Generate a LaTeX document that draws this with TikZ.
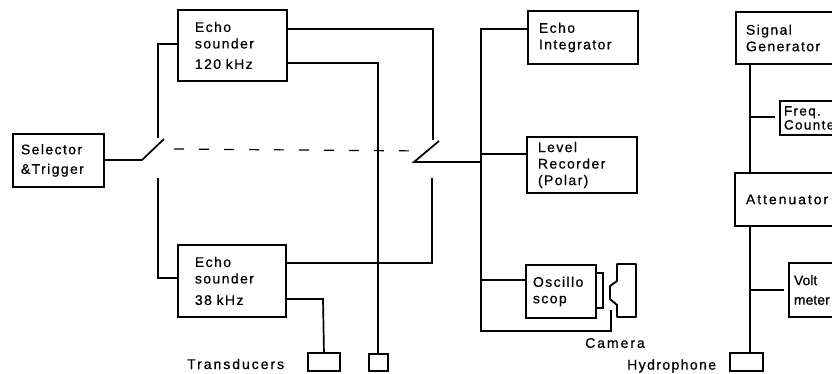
\documentclass[tikz,border=0pt]{standalone}
\usepackage{fontspec}
\setmainfont[LetterSpace=10,FakeBold=0.6]{Liberation Sans}
\usetikzlibrary{calc}
\tikzset{
  wire/.style={line width=1.7pt,line join=miter},
  thin wire/.style={line width=1.4pt},
  boxframe/.style={draw,line width=1.9pt,rectangle,inner xsep=#1,inner ysep=0pt,align=left,anchor=north west,
     font=\fontsize{14}{16.5}\selectfont},
  boxframe/.default=8pt,
  caption/.style={font=\fontsize{14}{16}\selectfont,inner sep=0pt,anchor=west},
  transducer/.style={draw,line width=1.9pt,rectangle,inner sep=0pt,anchor=north west},
}
\begin{document}
\begin{tikzpicture}[x=1pt,y=-1pt]
\useasboundingbox (0,0) rectangle (832,374);
\clip (0,0) rectangle (832,374);
% boxes
\node[boxframe=8pt,minimum width=91pt,minimum height=53pt,text width=75pt] (sel) at (12,133) {Selector\\[3pt]\&Trigger};
\node[boxframe=17pt,minimum width=109pt,minimum height=71pt,text width=75pt] (e120) at (177,9) {Echo\\sounder\\[4pt]120 kHz};
\node[boxframe=17pt,minimum width=108pt,minimum height=72pt,text width=74pt] (e38) at (177,244) {Echo\\sounder\\[5pt]38 kHz};
\node[boxframe=11pt,minimum width=110pt,minimum height=53pt,text width=88pt] (int) at (527,10) {Echo\\Integrator};
\node[boxframe=11pt,minimum width=110pt,minimum height=56pt,text width=88pt] (lev) at (526,136) {Level\\Recorder\\(Polar)};
\node[boxframe=7pt,minimum width=70pt,minimum height=53pt,text width=56pt] (osc) at (525,264) {Oscillo\\scop};
\node[boxframe=10pt,minimum width=120pt,minimum height=52pt,text width=100pt] (sig) at (735,11) {Signal\\Generator};
\node[boxframe=11pt,minimum width=120pt,minimum height=53pt,text width=98pt] (att) at (734,172) {\addfontfeature{LetterSpace=14}Attenuator};
\node[boxframe=4pt,minimum width=80pt,minimum height=34pt,text width=72pt,font=\fontsize{13.5}{14}\selectfont] (frq) at (779,100) {Freq.\\Counter};
\node[boxframe=5pt,minimum width=80pt,minimum height=54pt,text width=70pt] (vol) at (788,262) {\addfontfeature{LetterSpace=0}Volt\\[3pt]\addfontfeature{LetterSpace=0}meter};
% transducers
\node[transducer,minimum width=32pt,minimum height=18pt] (t1) at (307,352) {};
\node[transducer,minimum width=19pt,minimum height=17pt] (t2) at (368,353) {};
\node[transducer,minimum width=33pt,minimum height=18pt] (hyd) at (729,352) {};
% captions
\node[caption] (ctr) at (187,364) {\addfontfeature{LetterSpace=14}Transducers};
\node[caption] (ccam) at (585,343) {\addfontfeature{LetterSpace=14}Camera};
\node[caption] (chyd) at (627,366) {Hydrophone};
% oscilloscope screen
\node[draw,line width=1.6pt,rectangle,inner sep=0pt,minimum width=7pt,minimum height=35pt,anchor=north west] (scr) at (595,272) {};
% camera
\draw[line width=1.9pt,line join=round] (617,264) -- (636,264) -- (636,317) -- (617,317) -- (617,305) -- (610,299) -- (610,286) -- (617,281) -- cycle;
\coordinate (camin) at (611,310);
% left switch
\coordinate (swL) at (142,160);
\coordinate (swLt) at (164,139);
\coordinate (busL) at (158,138);
\coordinate (busLb) at (158,178);
\draw[wire] (sel.east |- swL) -- (swL) -- (swLt);
\draw[wire] (e120.west |- 0,44) -- (158,44) -- (busL);
\draw[wire] (e38.west |- 0,278) -- (158,278) -- (busLb);
% right switch
\coordinate (swR) at (414,162);
\coordinate (swRt) at (439,141);
\coordinate (bus) at (481,162);
\draw[wire] (swRt) -- (swR) -- (bus);
\draw[wire] (e120.east |- 0,29) -- (433,29) -- (433,140);
\draw[wire] (e38.east |- 0,263) -- (432,263) -- (432,178);
% dashed link
\draw[line width=1.2pt,dash pattern=on 10pt off 15pt] (174,149) -- (424,151);
% transducer lines
\draw[wire] (e120.east |- 0,63) -- (378,63) -- (t2.north -| 378,0);
\draw[wire] (e38.east |- 0,299) -- (323,299) -- (t1.north);
% output bus
\draw[wire] (int.west |- 0,29) -- (481,29) -- (481,331) -- (611,331) -- (camin);
\draw[thin wire] (bus |- 0,154) -- (lev.west |- 0,154);
\draw[wire] (bus |- 0,280) -- (osc.west |- 0,280);
% calibration chain
\draw[wire] (750,63) -- (750,172);
\draw[wire] (750,225) -- (750,352);
\draw[thin wire,shorten >=4pt] (750,117) -- (frq.west |- 0,117);
\draw[thin wire,shorten >=4pt] (750,290) -- (vol.west |- 0,290);
\end{tikzpicture}
\end{document}
